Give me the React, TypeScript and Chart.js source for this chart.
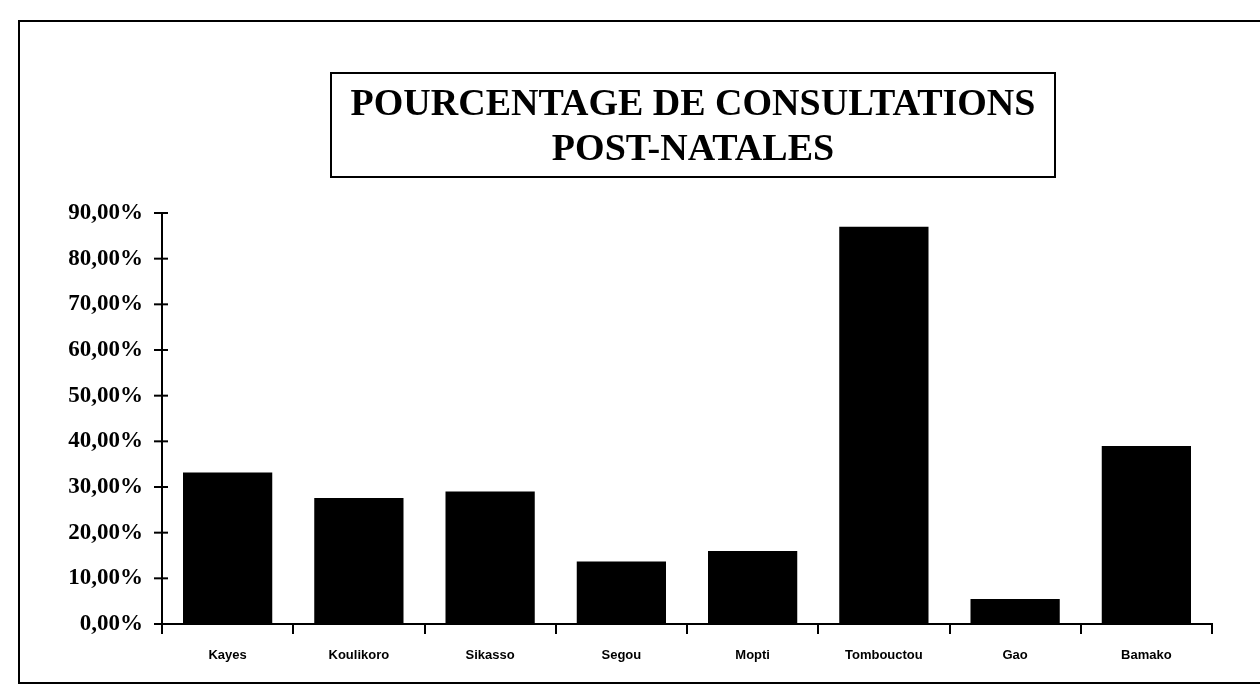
import React, { useEffect, useRef } from "react";
import { Chart, registerables } from "chart.js";

Chart.register(...registerables);

const categories = ["Kayes", "Koulikoro", "Sikasso", "Segou", "Mopti", "Tombouctou", "Gao", "Bamako"];
const values = [33.2, 27.6, 29.0, 13.7, 16.0, 87.0, 5.5, 39.0];
const yMin = 0;
const yMax = 90;
const yStep = 10;
const titleLines = ["POURCENTAGE DE CONSULTATIONS", "POST-NATALES"];

const fmt = (v: number) => v.toFixed(2).replace(".", ",") + "%";

const crossTicks = {
  id: "crossTicks",
  afterDraw(chart: any) {
    const y = chart.scales.y;
    const ctx = chart.ctx;
    ctx.save();
    ctx.strokeStyle = "#000";
    ctx.lineWidth = 2;
    y.ticks.forEach((t: any) => {
      const py = y.getPixelForValue(t.value);
      ctx.beginPath();
      ctx.moveTo(y.right - 8, py);
      ctx.lineTo(y.right + 6, py);
      ctx.stroke();
    });
    ctx.restore();
  },
};

export default function App() {
  const ref = useRef<HTMLCanvasElement | null>(null);

  useEffect(() => {
    if (!ref.current) return;
    const chart = new Chart(ref.current, {
      type: "bar",
      data: {
        labels: categories,
        datasets: [
          {
            data: values,
            backgroundColor: "#000",
            borderWidth: 0,
            barPercentage: 0.68,
            categoryPercentage: 1,
          },
        ],
      },
      options: {
        animation: false,
        responsive: false,
        maintainAspectRatio: false,
        layout: { padding: { left: 0, top: 213, right: 48, bottom: 0 } },
        plugins: { legend: { display: false }, title: { display: false }, tooltip: { enabled: false } },
        scales: {
          x: {
            afterFit: (s: any) => {
              s.height = 74;
            },
            border: { color: "#000", width: 2 },
            grid: { drawOnChartArea: false, drawTicks: true, tickLength: 10, color: "#000", lineWidth: 2, offset: true },
            ticks: {
              color: "#000",
              padding: 14,
              maxRotation: 0,
              autoSkip: false,
              font: { family: "'Liberation Sans', Arial, sans-serif", weight: "bold", size: 13 },
            },
          },
          y: {
            min: yMin,
            max: yMax,
            afterFit: (s: any) => {
              s.width = 162;
            },
            border: { color: "#000", width: 2 },
            grid: { drawOnChartArea: false, drawTicks: false },
            ticks: {
              stepSize: yStep,
              color: "#000",
              padding: 19,
              callback: (v: any) => fmt(Number(v)),
              font: { family: "'Liberation Serif', 'Times New Roman', serif", weight: "bold", size: 23 },
            },
          },
        },
      },
      plugins: [crossTicks],
    });
    return () => chart.destroy();
  }, []);

  return (
    <div style={{ position: "absolute", left: 0, top: 0, width: 1260, height: 698, background: "#fff", overflow: "hidden" }}>
      <div
        style={{
          position: "absolute",
          left: 18,
          top: 20,
          width: 1260,
          height: 664,
          border: "2px solid #000",
          boxSizing: "border-box",
        }}
      />
      <canvas ref={ref} width={1260} height={698} style={{ position: "absolute", left: 0, top: 0 }} />
      <div
        style={{
          position: "absolute",
          left: 330,
          top: 72,
          width: 726,
          height: 106,
          border: "2px solid #000",
          boxSizing: "border-box",
          display: "flex",
          flexDirection: "column",
          alignItems: "center",
          justifyContent: "center",
          fontFamily: "'Liberation Serif', 'Times New Roman', serif",
          fontWeight: "bold",
          fontSize: 38,
          lineHeight: "45px",
          color: "#000",
        }}
      >
        {titleLines.map((l, i) => (
          <div key={i}>{l}</div>
        ))}
      </div>
    </div>
  );
}
